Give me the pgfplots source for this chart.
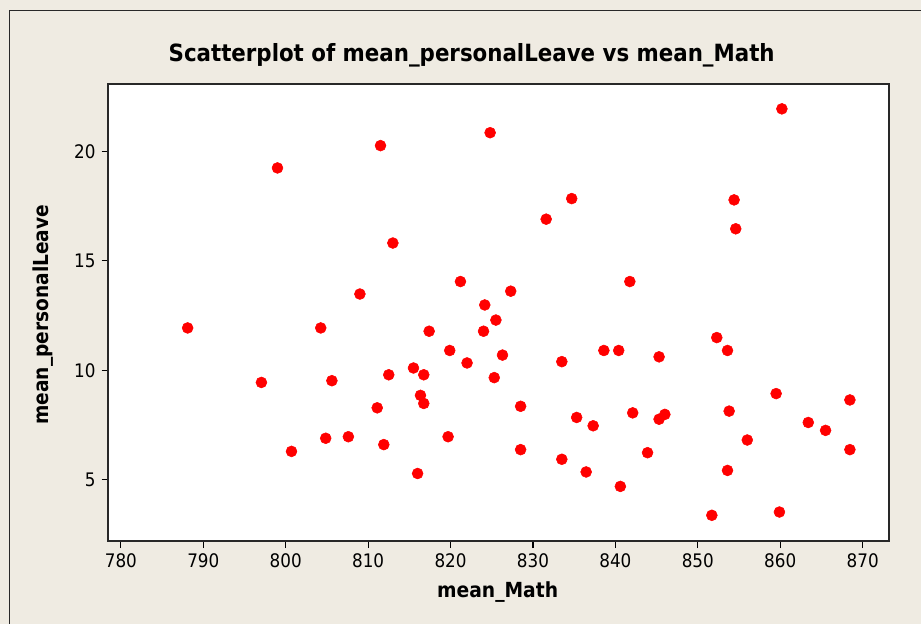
\documentclass[border=0pt]{standalone}
\usepackage{fontspec}
\setmainfont{DejaVu Sans}[FakeStretch=0.9]
\usepackage{pgfplots}
\pgfplotsset{compat=1.18}
\definecolor{bg}{RGB}{239,235,226}
\definecolor{framec}{RGB}{40,40,40}

\begin{document}
\begin{tikzpicture}
\fill[bg] (0,0) rectangle (691.5pt,468pt);
\draw[framec, line width=1pt] (7pt,0) -- (7pt,460pt) -- (691.5pt,460pt);
\begin{axis}[
  at={(81.2pt,61.7pt)}, anchor=south west,
  scale only axis, width=586.3pt, height=343pt,
  xmin=778.46, xmax=873.24, ymin=2.19, ymax=23.07,
  axis background/.style={fill=white},
  axis line style={framec, line width=1.5pt},
  xtick={780,790,...,870}, ytick={5,10,15,20},
  tick pos=left, tick align=outside, major tick length=5pt,
  tick style={black, line width=0.8pt},
  ticklabel style={font=\fontsize{14}{16}\selectfont},
  /pgf/number format/assume math mode=true,
  /pgf/number format/1000 sep={},
  xticklabel style={yshift=-1pt},
  yticklabel style={xshift=-1pt},
]
\addplot[only marks, mark=*, mark size=4.1pt, mark options={draw=red, fill=red}]
coordinates {
(788.1,11.94) (797.05,9.45) (799.0,19.25) (800.7,6.30) (804.25,11.94)
(804.85,6.90) (805.6,9.53) (807.6,6.97) (809.0,13.49) (811.1,8.29)
(811.5,20.27) (811.9,6.61) (812.5,9.80) (813.0,15.82) (815.5,10.11)
(816.0,5.29) (816.35,8.86) (816.75,9.80) (816.75,8.49) (817.4,11.79)
(819.7,6.97) (819.9,10.91) (821.2,14.06) (822.0,10.34) (824.0,11.79)
(824.15,12.99) (824.8,20.86) (825.3,9.67) (825.5,12.30) (826.3,10.70)
(827.3,13.62) (828.5,8.36) (828.5,6.38) (831.6,16.91) (833.5,10.40)
(833.5,5.94) (834.7,17.85) (835.3,7.85) (836.45,5.36) (837.3,7.47)
(838.6,10.91) (840.4,10.91) (840.6,4.70) (841.75,14.06) (842.1,8.06)
(843.9,6.24) (845.3,10.62) (845.3,7.77) (846.0,7.99) (851.7,3.38)
(852.3,11.50) (853.6,10.91) (853.6,5.43) (853.8,8.14) (854.4,17.79)
(854.6,16.47) (856.0,6.82) (859.5,8.94) (859.9,3.53) (860.2,21.95)
(863.4,7.62) (865.5,7.26) (868.45,8.65) (868.45,6.38)
};
\end{axis}
\node[font=\fontsize{17.8}{20}\selectfont\bfseries] at (354pt,426.75pt) {Scatterplot of mean\_personalLeave vs mean\_Math};
\node[font=\fontsize{15.6}{18}\selectfont\bfseries] at (373.5pt,24pt) {mean\_Math};
\node[font=\fontsize{15.5}{18}\selectfont\bfseries, rotate=90] at (32.25pt,231.75pt) {mean\_personalLeave};
\end{tikzpicture}
\end{document}
